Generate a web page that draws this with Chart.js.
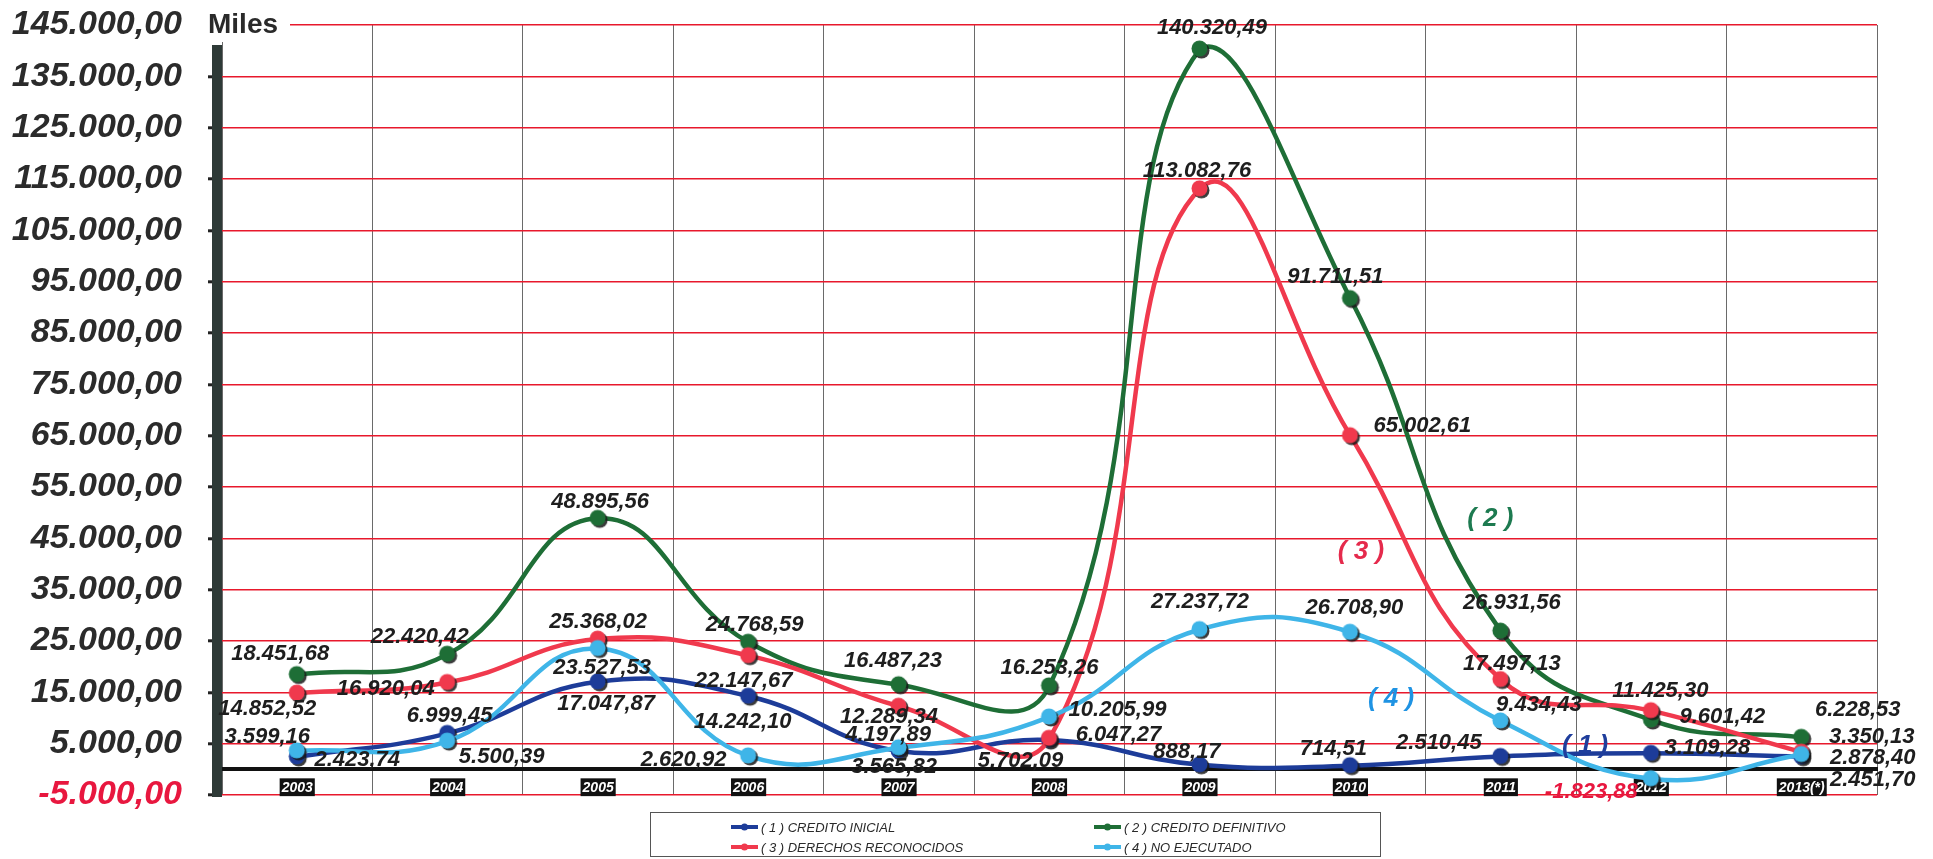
<!DOCTYPE html>
<html>
<head>
<meta charset="utf-8">
<title>Evolución presupuestaria 2003-2013</title>
<script src="https://cdn.jsdelivr.net/npm/chart.js@4.4.1/dist/chart.umd.min.js"></script>
<style>
  html, body { margin: 0; padding: 0; background: #ffffff; }
  canvas { display: block; }
</style>
</head>
<body>
<canvas id="chart" width="1933" height="859"></canvas>
<script>
// ---- data (miles de euros) ----
const years = ['2003', '2004', '2005', '2006', '2007', '2008', '2009', '2010', '2011', '2012', '2013(*)'];
const creditoInicial      = [2423.74, 6999.45, 17047.87, 14242.10, 3565.82, 5702.09, 888.17, 714.51, 2510.45, 3109.28, 2451.70];
const creditoDefinitivo   = [18451.68, 22420.42, 48895.56, 24768.59, 16487.23, 16253.26, 140320.49, 91711.51, 26931.56, 9601.42, 6228.53];
const derechosReconocidos = [14852.52, 16920.04, 25368.02, 22147.67, 12289.34, 6047.27, 113082.76, 65002.61, 17497.13, 11425.30, 3350.13];
const noEjecutado         = [3599.16, 5500.39, 23527.53, 2620.92, 4197.89, 10205.99, 27237.72, 26708.90, 9434.43, -1823.88, 2878.40];
const yTickValues = [-5000, 5000, 15000, 25000, 35000, 45000, 55000, 65000, 75000, 85000, 95000, 105000, 115000, 125000, 135000, 145000];
const seriesNames = ['( 1 ) CREDITO INICIAL', '( 2 ) CREDITO DEFINITIVO', '( 3 ) DERECHOS RECONOCIDOS', '( 4 ) NO EJECUTADO'];
const seriesTags  = ['( 1 )', '( 2 )', '( 3 )', '( 4 )'];
const unitLabel = 'Miles';

// ---- styling ----
const seriesColors = ['#1d3c99', '#1e6e36', '#f0394d', '#3fb5e8'];
const tagColors    = ['#1f3e9c', '#1d7a50', '#e52a4c', '#1f93e3'];
const drawOrder    = [2, 3, 1, 0];            // light blue on top, green at the back
const FONT = '"Liberation Sans", Arial, Helvetica, sans-serif';

// where each value label sits relative to its point [dx, dy]
const labelOffsets = [
  [[60, 3], [2, -17], [8, 22], [-6, 26], [-5, 16], [-29, 21], [-13, -13], [-17, -17], [-62, -14], [56, -5], [71, 23]],
  [[-17, -21], [-28, -17], [2, -16], [6, -17], [-6, -24], [0, -18], [12, -21], [-15, -22], [11, -28], [71, -3], [56, -27]],
  [[-30, 16], [-62, 6], [0, -17], [-5, 25], [-10, 11], [69, -3], [-3, -18], [72, -10], [11, -16], [9, -20], [70, -15]],
  [[-30, -14], [54, 16], [4, 19], [-65, 4], [-11, -13], [68, -7], [0, -28], [4, -24], [38, -16], [-60, 13], [71, 3]]
];
// series tags placed in data space [category index, value]
const tagAnchors = [[8.56, 4550], [7.93, 48770], [7.07, 42440], [7.27, 13700]];

// Spanish number format: 145.000,00
function fmt(v) {
  const neg = v < 0;
  const parts = Math.abs(v).toFixed(2).split('.');
  const intPart = parts[0].replace(/\B(?=(\d{3})+(?!\d))/g, '.');
  return (neg ? '-' : '') + intPart + ',' + parts[1];
}

// round marker with a dark drop shadow
function dotImage(color) {
  const c = document.createElement('canvas');
  c.width = 24; c.height = 24;
  const g = c.getContext('2d');
  g.fillStyle = 'rgba(25,25,25,0.85)';
  g.beginPath(); g.arc(13.5, 13.5, 8, 0, Math.PI * 2); g.fill();
  g.fillStyle = color;
  g.beginPath(); g.arc(11.5, 11.5, 8, 0, Math.PI * 2); g.fill();
  return c;
}

const seriesData = [creditoInicial, creditoDefinitivo, derechosReconocidos, noEjecutado];

const datasets = seriesData.map((vals, i) => ({
  label: seriesNames[i],
  data: vals,
  borderColor: seriesColors[i],
  backgroundColor: seriesColors[i],
  borderWidth: 4.5,
  tension: 0.45,
  pointStyle: dotImage(seriesColors[i]),
  pointRadius: 9,
  order: drawOrder[i],
  clip: false
}));

// axis bar and unit caption
const decorPlugin = {
  id: 'decor',
  beforeDatasetsDraw(chart) {
    const { ctx, chartArea } = chart;
    ctx.save();
    ctx.fillStyle = '#2e3a37';
    ctx.fillRect(chartArea.left - 10, chartArea.top + 20, 10, chartArea.bottom - chartArea.top - 18);
    ctx.fillStyle = '#ffffff';
    ctx.fillRect(chartArea.left - 18, chartArea.top - 17, 86, 34);
    ctx.fillStyle = '#2a2a2a';
    ctx.font = 'bold 28px ' + FONT;
    ctx.textAlign = 'left';
    ctx.textBaseline = 'middle';
    ctx.fillText(unitLabel, chartArea.left - 14, chartArea.top);
    ctx.restore();
  }
};

// value labels next to every point
const valueLabelPlugin = {
  id: 'valueLabels',
  afterDatasetsDraw(chart) {
    const ctx = chart.ctx;
    ctx.save();
    ctx.font = 'italic bold 22px ' + FONT;
    ctx.textAlign = 'center';
    ctx.textBaseline = 'middle';
    chart.data.datasets.forEach((ds, i) => {
      const meta = chart.getDatasetMeta(i);
      meta.data.forEach((pt, j) => {
        const v = ds.data[j];
        const off = labelOffsets[i][j];
        ctx.fillStyle = v < 0 ? '#e8173f' : '#1e1e1e';
        ctx.fillText(fmt(v), pt.x + off[0], pt.y + off[1]);
      });
    });
    ctx.restore();
  }
};

// series tags and legend box
const legendPlugin = {
  id: 'legendBox',
  afterDraw(chart) {
    const { ctx, scales } = chart;
    ctx.save();
    ctx.font = 'italic bold 26px ' + FONT;
    ctx.textAlign = 'center';
    ctx.textBaseline = 'middle';
    seriesTags.forEach((t, i) => {
      const a = tagAnchors[i];
      ctx.fillStyle = tagColors[i];
      ctx.fillText(t, scales.x.getPixelForValue(a[0]), scales.y.getPixelForValue(a[1]));
    });

    const box = { x: 650.5, y: 812.5, w: 730, h: 44 };
    ctx.strokeStyle = '#555';
    ctx.lineWidth = 1;
    ctx.strokeRect(box.x, box.y, box.w, box.h);
    const cols = [731, 1094];
    const rows = [827, 847];
    ctx.font = 'italic 13px ' + FONT;
    ctx.textAlign = 'left';
    chart.data.datasets.forEach((ds, i) => {
      const x = cols[i % 2], y = rows[Math.floor(i / 2)];
      ctx.strokeStyle = ds.borderColor;
      ctx.lineWidth = 4;
      ctx.beginPath(); ctx.moveTo(x, y); ctx.lineTo(x + 27, y); ctx.stroke();
      ctx.fillStyle = ds.borderColor;
      ctx.beginPath(); ctx.arc(x + 13.5, y, 3.5, 0, Math.PI * 2); ctx.fill();
      ctx.fillStyle = '#2a2a2a';
      ctx.fillText(ds.label, x + 30, y + 1);
    });
    ctx.restore();
  }
};

new Chart(document.getElementById('chart'), {
  type: 'line',
  data: { labels: years, datasets },
  plugins: [decorPlugin, valueLabelPlugin, legendPlugin],
  options: {
    responsive: false,
    devicePixelRatio: 1,
    animation: false,
    events: [],
    layout: { padding: { top: 25, right: 56, bottom: 64, left: 0 } },
    plugins: { legend: { display: false }, tooltip: { enabled: false } },
    scales: {
      x: {
        type: 'category',
        position: { y: 0 },
        offset: true,
        grid: { offset: true, color: '#6a6a6a', lineWidth: 1, drawTicks: false },
        border: { color: '#111111', width: 4, z: -1 },
        ticks: {
          color: '#ffffff',
          font: { family: FONT, size: 14, weight: 'bold', style: 'italic' },
          padding: 10,
          maxRotation: 0,
          autoSkip: false,
          showLabelBackdrop: true,
          backdropColor: '#111111',
          backdropPadding: { top: 1, bottom: 0, left: 2, right: 2 }
        }
      },
      y: {
        type: 'linear',
        min: -5000,
        max: 145000,
        afterFit(scale) {
          scale.width = 222;
          scale.paddingTop = 10;
          scale.paddingBottom = 10;
        },
        afterBuildTicks(scale) { scale.ticks = yTickValues.map(v => ({ value: v })); },
        grid: { color: '#e8192c', lineWidth: 1.6, tickColor: '#222', tickLength: 14, tickWidth: 3 },
        border: { display: false },
        ticks: {
          padding: 26,
          color: ctx => (ctx.tick && ctx.tick.value < 0 ? '#e8173f' : '#2b2b2b'),
          font: { family: FONT, size: 34, weight: 'bold', style: 'italic' },
          callback: v => fmt(v)
        }
      }
    }
  }
});
</script>
</body>
</html>
